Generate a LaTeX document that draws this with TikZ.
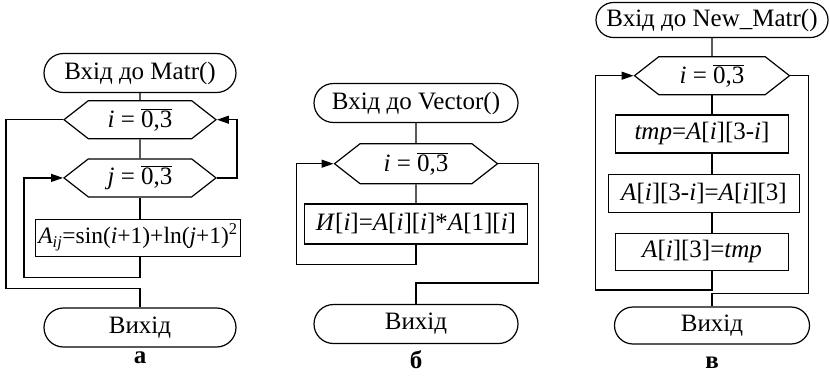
\documentclass[tikz,border=0pt]{standalone}
\usepackage{fontspec}
\setmainfont{Liberation Serif}
\usetikzlibrary{arrows.meta, positioning}
\usetikzlibrary{shapes.misc, shapes.symbols}

\begin{document}
\begin{tikzpicture}[
		x=1pt, y=-1pt,
		line width=1.2pt,
		every node/.style={font=\fontsize{25}{30}\selectfont, inner sep=0pt},
		term/.style={
			rounded rectangle,
			draw,
			minimum width=192pt,
			minimum height=39pt
		},
		hexa/.style={
			signal,
			signal to=west and east,
			signal pointer angle=76,
			draw,
			minimum width=#1,
			minimum height=38pt
		},
		block/.style={
			rectangle,
			draw,
			minimum height=37pt
		},
		arrow/.style={
			-{Triangle[length=12pt, width=8pt]}
		}
	]
	\useasboundingbox (0,0) rectangle (830,376);
	
	% а
	\node[term] (startA) at (140,73) {Вхід до Matr()};
	\node[hexa=152pt, below=7pt of startA] (hexI) {\textit{i} = $\overline{\mbox{0,3}}$};
	\node[hexa=152pt, below=19pt of hexI] (hexJ) {\textit{j} = $\overline{\mbox{0,3}}$};
	\node[block, minimum width=205pt, below=21pt of hexJ, xshift=-2pt, font=\fontsize{23.5}{28}\selectfont] (bodyA) {\textit{A}\textsubscript{\textit{ij}}=sin(\textit{i}+1)+ln(\textit{j}+1)\textsuperscript{2}};
	\node[term] (endA) at (140,327.5) {Вихід};
	\node (labA) at (140,358) {\textbf{а}};
	
	\draw (startA) -- (hexI);
	\draw (hexI) -- (hexJ);
	\draw (hexJ.south) -- (hexJ.south |- bodyA.north);
	\draw[arrow] (hexJ.east) -- ++(20,0) |- (hexI.east);
	\draw[arrow] (hexJ.south |- bodyA.south) -- ++(0,21) -| ([xshift=-39pt]hexJ.west) -- (hexJ.west);
	\draw (hexI.west) -- ++(-57,0) |- ([yshift=19pt]endA.north) -- (endA.north);
	
	% б
	\node[term, minimum width=204pt] (startB) at (416,103) {Вхід до Vector()};
	\node[hexa=163pt, minimum height=40pt, below=20pt of startB] (hexB) {\textit{i} = $\overline{\mbox{0,3}}$};
	\node[block, minimum width=223pt, minimum height=40pt, below=19pt of hexB] (bodyB) {\textit{И}[\textit{i}]=\textit{A}[\textit{i}][\textit{i}]*\textit{A}[1][\textit{i}]};
	\node[term, minimum width=204pt] (endB) at (416,324) {Вихід};
	\node (labB) at (416,360) {\textbf{б}};
	
	\draw (startB) -- (hexB);
	\draw (hexB) -- (bodyB);
	\draw[arrow] (bodyB.south) -- ++(0,20) -| ([xshift=-37pt]hexB.west) -- (hexB.west);
	\draw (hexB.east) -- ++(40,0) |- ([yshift=21pt]endB.north) -- (endB.north);
	
	% в
	\node[term, minimum width=232pt, minimum height=35pt] (startC) at (712,20) {Вхід до New\_Matr()};
	\node[hexa=155pt, below=18pt of startC] (hexC) {\textit{i} = $\overline{\mbox{0,3}}$};
	\node[block, minimum width=173pt, minimum height=38pt, below=19pt of hexC, xshift=-10pt] (swap1) {\textit{tmp}=\textit{A}[\textit{i}][3-\textit{i}]};
	\node[block, minimum width=191pt, minimum height=38pt, below=20pt of swap1, xshift=2pt] (swap2) {\textit{A}[\textit{i}][3-\textit{i}]=\textit{A}[\textit{i}][3]};
	\node[block, minimum width=173pt, below=20pt of swap2, xshift=-2pt] (swap3) {\textit{A}[\textit{i}][3]=\textit{tmp}};
	\node[term, minimum width=195pt, minimum height=37pt] (endC) at (712,325.5) {Вихід};
	\node (labC) at (712,363) {\textbf{в}};
	
	\draw (startC) -- (hexC);
	\draw (hexC.south) -- (hexC.south |- swap1.north);
	\draw (hexC.south |- swap1.south) -- (hexC.south |- swap2.north);
	\draw (hexC.south |- swap2.south) -- (hexC.south |- swap3.north);
	\draw[arrow] (hexC.south |- swap3.south) -- ++(0,19) -| ([xshift=-38pt]hexC.west) -- (hexC.west);
	\draw (hexC.east) -- ++(18,0) |- ([yshift=13pt]endC.north) -- (endC.north);
	
\end{tikzpicture}
\end{document}
